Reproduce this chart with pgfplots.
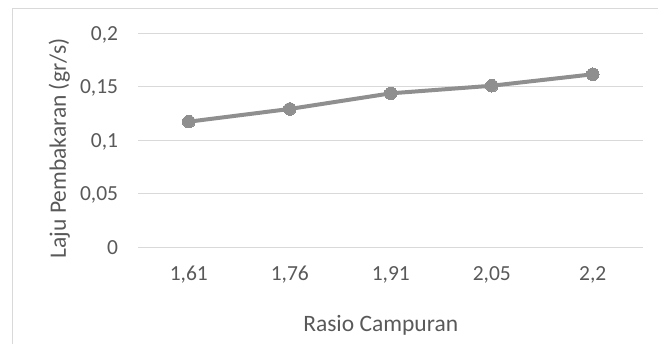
\documentclass[border=0pt]{standalone}
\usepackage{pgfplots}
\pgfplotsset{compat=1.18}
\usepackage{fontspec}
\setmainfont{Carlito}
\definecolor{txt}{RGB}{89,89,89}
\definecolor{gridc}{RGB}{217,217,217}
\definecolor{ser}{RGB}{143,143,143}
\begin{document}
\begin{tikzpicture}
\path[use as bounding box] (0,0) rectangle (658bp,344bp);
\draw[gridc, line width=1.8bp] (12.5bp,-2bp) -- (12.5bp,335.5bp) -- (660bp,335.5bp);
\begin{axis}[
  at={(138.3bp,96.7bp)}, anchor=south west,
  scale only axis, width=505bp, height=214bp,
  xmin=-0.5, xmax=4.5, ymin=0, ymax=0.2,
  axis line style={draw=none},
  xtick={0,1,2,3,4},
  xticklabels={{1,61},{1,76},{1,91},{2,05},{2,2}},
  ytick={0,0.05,0.1,0.15,0.2},
  yticklabels={{0},{0,05},{0,1},{0,15},{0,2}},
  major tick length=0pt,
  xmajorgrids=false, ymajorgrids=true, grid style={draw=gridc, line width=1bp},
  tick label style={font=\fontsize{21.5bp}{26bp}\selectfont, text=txt, inner sep=0pt},
  yticklabel style={anchor=base east, xshift=-20bp, yshift=-7bp},
  xticklabel style={anchor=base, yshift=-32.7bp},
  xlabel={Rasio Campuran},
  ylabel={Laju Pembakaran (gr/s)},
  label style={font=\fontsize{23.5bp}{28bp}\selectfont, text=txt, inner sep=0pt},
  xlabel style={at={(axis description cs:0.48,0)}, anchor=base, yshift=-84.4bp},
  ylabel style={at={(axis description cs:-0.1432,0.4617)}, anchor=base},
  clip=false,
]
\addplot[ser, line width=4bp, mark=*, mark size=6.3bp, mark options={fill=ser, draw=ser, line width=0pt}]
  coordinates {(0,0.1174) (1,0.1293) (2,0.1439) (3,0.151) (4,0.1617)};
\end{axis}
\end{tikzpicture}
\end{document}
